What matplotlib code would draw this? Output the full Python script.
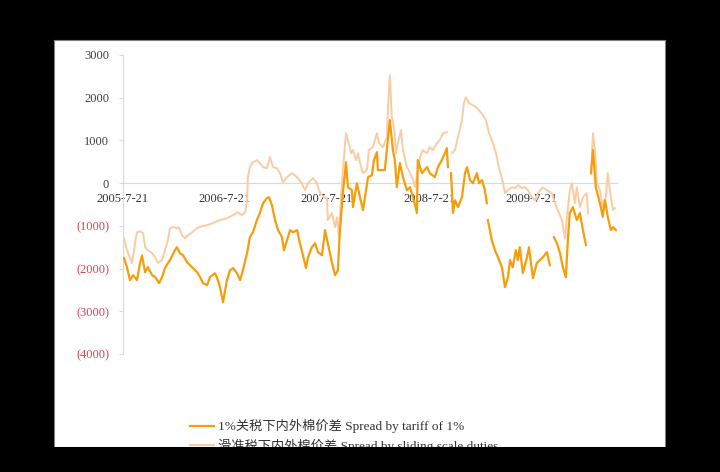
import numpy as np
import pandas as pd
import matplotlib
matplotlib.use('Agg')
import matplotlib.pyplot as plt
from matplotlib.patches import Rectangle

plt.rcParams['font.family'] = ['Liberation Serif', 'Noto Sans CJK SC', 'DejaVu Sans']

start = pd.Timestamp('2005-07-21')

# days after 2005-7-21 / spread value (NaN = break in the line)
tariff_days = [4, 14, 25, 36, 50, 61, 68, 79, 89, 104, 115, 129, 140, 150, 168, 186, 193, 204, 215, 229,
               247, 265, 276, 286, 301, 311, 329, 336, 347, 358, 372, 383, 394, 408, 419, 429, 444, 454,
               465, 479, 490, 501, 515, 522, 533, 544, 555, 569, 576, 587, 598, 608, 623, 633, 644, 655,
               662, 676, 687, 698, 712, 723, 733, 748, 759, 769, 776, 787, 798, 805, 819, 823, 837, 848,
               859, 866, 877, 891, 898, 909, 912, 927, 937, 948, 955, 966, 973, 980, 991, 1002, 1016,
               1027, 1038, 1052, 1055, 1070, 1088, 1098, 1116, 1127, 1141, 1152, 1159, 1163, 1168, 1174,
               1181, 1188, 1199, 1213, 1224, 1231, 1242, 1252, 1267, 1274, 1285, 1295, 1302, 1304, 1306,
               1320, 1331, 1342, 1356, 1367, 1378, 1385, 1395, 1406, 1413, 1420, 1431, 1446, 1453, 1467,
               1481, 1492, 1503, 1517, 1528, 1535, 1542, 1553, 1564, 1574, 1585, 1592, 1599, 1610, 1624,
               1635, 1646, 1657, 1666, 1675, 1682, 1692, 1707, 1717, 1725, 1735, 1746, 1753, 1764]
tariff_vals = [-1757, -1967, -2270, -2155, -2270, -1870, -1690, -2085, -1967, -2155, -2200, -2340, -2200,
               -1990, -1800, -1570, -1500, -1640, -1690, -1850, -1967, -2085, -2200, -2340, -2390, -2200,
               -2110, -2200, -2435, -2790, -2270, -2040, -1990, -2110, -2270, -2040, -1640, -1265, -1150,
               -865, -700, -470, -350, -330, -515, -865, -1100, -1265, -1570, -1335, -1100, -1150, -1100,
               -1405, -1690, -1990, -1733, -1500, -1405, -1615, -1690, -1100, -1405, -1870, -2155, -2040,
               -1150, -234, 490, -94, -164, -560, 0, -330, -630, -330, 140, 187, 540, 725, 305, 305, 305,
               1007, 1475, 773, 540, -94, 470, 140, -164, -94, -330, -700, 540, 234, 375, 234, 140, 375,
               540, 700, 820, 375, np.nan, 234, -700, -400, -560, -330, 234, 375, 70, 0, 234, 0, 70,
               -164, -470, np.nan, -865, -1335, -1570, -1733, -1967, -2435, -2200, -1800, -1967, -1570,
               -1800, -1500, -2110, -1733, -1500, -2225, -1870, -1800, -1733, -1615, -1920, np.nan,
               -1265, -1405, -1640, -1967, -2200, -1335, -700, -560, -865, -700, -1100, -1450, np.nan,
               234, 773, -94, -470, -790, -400, -790, -1100, -1030, -1100]

sliding_days = [4, 11, 18, 32, 43, 50, 61, 72, 79, 89, 104, 115, 125, 140, 150, 161, 168, 179, 193, 200,
                211, 222, 233, 247, 265, 283, 301, 322, 347, 372, 394, 411, 426, 437, 444, 447, 454, 465,
                479, 490, 501, 515, 526, 537, 551, 562, 572, 587, 605, 623, 640, 651, 662, 680, 694, 705,
                719, 730, 733, 748, 759, 766, 773, 776, 787, 798, 805, 816, 823, 834, 841, 852, 859, 873,
                880, 894, 909, 916, 930, 945, 948, 955, 962, 970, 977, 984, 995, 1002, 1016, 1023, 1038,
                1045, 1055, 1063, 1073, 1088, 1098, 1109, 1123, 1134, 1145, 1159, 1168, 1177, 1188, 1199,
                1213, 1220, 1227, 1238, 1252, 1263, 1274, 1288, 1299, 1310, 1324, 1335, 1345, 1360, 1367,
                1378, 1392, 1403, 1413, 1428, 1438, 1449, 1463, 1474, 1485, 1503, 1517, 1535, 1546, 1556,
                1571, 1582, 1589, 1599, 1607, 1617, 1624, 1635, 1646, 1660, 1664, 1670, 1675, 1682, 1689,
                1696, 1707, 1717, 1728, 1735, 1746, 1753, 1760]
sliding_vals = [-1290, -1500, -1640, -1870, -1405, -1150, -1125, -1170, -1500, -1570, -1640, -1733, -1870,
                -1800, -1570, -1335, -1054, -1030, -1054, -1030, -1218, -1290, -1218, -1150, -1054, -1007,
                -984, -937, -865, -820, -750, -680, -750, -680, -400, 140, 375, 490, 540, 470, 375, 350,
                610, 375, 350, 234, 23, 140, 234, 140, 0, -164, 0, 117, 0, -234, -330, -350, -865, -700,
                -1030, -796, -1265, -796, 305, 1170, 1007, 700, 773, 540, 700, 375, 234, 305, 773, 843,
                1170, 937, 843, 1077, 1710, 2530, 1545, 1311, 700, 937, 1240, 773, 375, 305, 70, -94, 305,
                610, 773, 700, 843, 773, 937, 1007, 1170, 1194, np.nan, 700, 773, 1077, 1475, 1873, 2014,
                1873, 1827, 1780, 1710, 1593, 1475, 1170, 937, 700, 375, 0, -234, -164, -94, -117, -47,
                -117, -94, -164, -330, -400, -234, -94, -164, -234, -470, -630, -865, -1300, -796, -164,
                0, -470, -94, -560, -330, -234, -700, np.nan, 234, 1170, 773, 0, -164, -560, -330, 234,
                -330, -630, -585]

tick_dates = ['2005-7-21', '2006-7-21', '2007-7-21', '2008-7-21', '2009-7-21']
y_ticks = [3000, 2000, 1000, 0, -1000, -2000, -3000, -4000]

label_tariff = '1%关税下内外棉价差 Spread by tariff of 1%'
label_sliding = '滑准税下内外棉价差 Spread by sliding scale duties'

fig = plt.figure(figsize=(7.2, 4.72), dpi=100, facecolor='black')

# white slide area
panel = fig.add_axes([54/720, 25/472, 611/720, 407/472], zorder=0)
panel.set_facecolor('white')
panel.set_xticks([])
panel.set_yticks([])
for s in panel.spines.values():
    s.set_color('#808080')
    s.set_linewidth(0.8)

ax = fig.add_axes([123/720, 118/472, 494/720, 299/472], zorder=1)
ax.patch.set_alpha(0)

d1 = start + pd.to_timedelta(tariff_days, unit='D')
d2 = start + pd.to_timedelta(sliding_days, unit='D')
l2, = ax.plot(d2, sliding_vals, color='#FBCBA3', lw=1.4, zorder=3)
l1, = ax.plot(d1, tariff_vals, color='#F59E0B', lw=1.6, zorder=4)

ax.set_xlim(start, start + pd.Timedelta(days=1768))
ax.set_ylim(-4000, 3000)

ax.spines['top'].set_visible(False)
ax.spines['right'].set_visible(False)
ax.spines['bottom'].set_position(('data', 0))
ax.spines['bottom'].set_color('#D9D9D9')
ax.spines['left'].set_color('#D9D9D9')

ax.set_xticks(pd.to_datetime(tick_dates))
ax.set_xticklabels(tick_dates, fontsize=9, color='#333333')
ax.tick_params(axis='x', length=0, pad=7)

ax.set_yticks(y_ticks)
ylabels = [str(v) if v >= 0 else '(%d)' % (-v) for v in y_ticks]
ax.set_yticklabels(ylabels, fontsize=9)
for t, v in zip(ax.get_yticklabels(), y_ticks):
    t.set_color('#404040' if v >= 0 else '#D9434F')
ax.tick_params(axis='y', length=3, color='#D9D9D9', pad=7)

fig.legend([l1, l2], [label_tariff, label_sliding], loc='upper left',
           bbox_to_anchor=(190/720, 53/472), frameon=False, fontsize=9.5,
           borderpad=0, borderaxespad=0, handlelength=1.8, handletextpad=0.3,
           labelspacing=0.4, labelcolor='#333333')

# bottom black band cuts the legend like the screenshot does
fig.patches.append(Rectangle((0, 0), 1, 25/472, transform=fig.transFigure,
                             facecolor='black', edgecolor='none', zorder=10))

fig.savefig('out.png', dpi=100, facecolor='black')
